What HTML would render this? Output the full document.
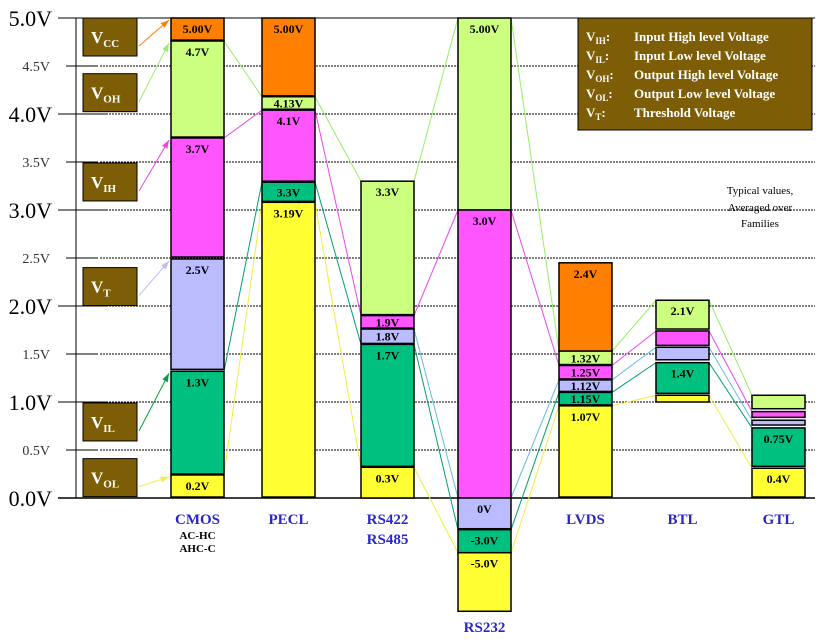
<!DOCTYPE html>
<html><head><meta charset="utf-8"><style>
html,body{margin:0;padding:0;background:#fff;}
svg{display:block;font-family:"Liberation Serif",serif;}
</style></head><body>
<svg id="chart" width="826" height="641" viewBox="0 0 826 641" xmlns="http://www.w3.org/2000/svg">
<g id="grid"></g>
<g id="lines"></g>
<g id="bars"></g>
<g id="boxes"></g>
<g>
<rect x="578" y="18" width="234" height="112" fill="#7d5d05" stroke="#000"/>
<g fill="#fff" font-size="13" font-weight="bold">
<text x="586" y="41">V<tspan font-size="9" dy="3">IH</tspan><tspan dy="-3">:</tspan><tspan x="634">Input High level Voltage</tspan></text>
<text x="586" y="60">V<tspan font-size="9" dy="3">IL</tspan><tspan dy="-3">:</tspan><tspan x="634">Input Low level Voltage</tspan></text>
<text x="586" y="79">V<tspan font-size="9" dy="3">OH</tspan><tspan dy="-3">:</tspan><tspan x="634">Output High level Voltage</tspan></text>
<text x="586" y="98">V<tspan font-size="9" dy="3">OL</tspan><tspan dy="-3">:</tspan><tspan x="634">Output Low level Voltage</tspan></text>
<text x="586" y="117">V<tspan font-size="9" dy="3">T</tspan><tspan dy="-3">:</tspan><tspan x="634">Threshold Voltage</tspan></text>
</g></g>
<g font-size="11" text-anchor="middle">
<text x="760" y="194">Typical values,</text><text x="760" y="211">Averaged over</text><text x="760" y="227">Families</text>
</g>
<g id="cats"></g>
</svg>
<script>
const categories=["CMOS","PECL","RS422","RS232","LVDS","BTL","GTL"];
const catSub=[["AC-HC","AHC-C"],[],["RS485"],[],[],[],[]];
const barX=[171,262,361,458,559,656,752];
const segColors=["#ff8000","#ccff80","#ff55ff","#bbbbff","#00c080","#ffff33"];
// [colorIndex, topV, bottomV, label]
const segCMOS=[[0,5.0,4.77,"5.00V"],[1,4.76,3.76,"4.7V"],[2,3.75,2.51,"3.7V"],[3,2.49,1.34,"2.5V"],[4,1.32,0.25,"1.3V"],[5,0.24,0.01,"0.2V"]];
const segPECL=[[0,5.0,4.19,"5.00V"],[1,4.18,4.05,"4.13V"],[2,4.04,3.30,"4.1V"],[4,3.29,3.09,"3.3V"],[5,3.08,0.01,"3.19V"]];
const segRS422=[[1,3.30,1.91,"3.3V"],[2,1.90,1.77,"1.9V"],[3,1.76,1.61,"1.8V"],[4,1.60,0.33,"1.7V"],[5,0.32,0.0,"0.3V"]];
const segRS232=[[1,5.0,3.0,"5.00V"],[2,3.0,0.0,"3.0V"],[3,0.0,-0.32,"0V"],[4,-0.33,-0.57,"-3.0V"],[5,-0.57,-1.18,"-5.0V"]];
const segLVDS=[[0,2.45,1.53,"2.4V"],[1,1.53,1.39,"1.32V"],[2,1.38,1.24,"1.25V"],[3,1.23,1.11,"1.12V"],[4,1.10,0.97,"1.15V"],[5,0.96,0.01,"1.07V"]];
const segBTL=[[1,2.06,1.76,"2.1V"],[2,1.74,1.59,""],[3,1.57,1.44,""],[4,1.41,1.09,"1.4V"],[5,1.07,1.0,""]];
const segGTL=[[1,1.07,0.93,""],[2,0.90,0.84,""],[3,0.81,0.76,""],[4,0.73,0.33,"0.75V"],[5,0.31,0.01,"0.4V"]];
const allSegs=[segCMOS,segPECL,segRS422,segRS232,segLVDS,segBTL,segGTL];
const tickVals=[5.0,4.5,4.0,3.5,3.0,2.5,2.0,1.5,1.0,0.5,0.0];
const tickLabels=["5.0V","4.5V","4.0V","3.5V","3.0V","2.5V","2.0V","1.5V","1.0V","0.5V","0.0V"];
const boxNames=["CC","OH","IH","T","IL","OL"];
const boxTopV=[5.0,4.42,3.49,2.40,0.99,0.41];
const NS="http://www.w3.org/2000/svg";
const yScale=v=>498-96*v;
const BW=53;
function mk(tag,attrs,parent){const e=document.createElementNS(NS,tag);for(const k in attrs)e.setAttribute(k,attrs[k]);parent.appendChild(e);return e;}
const grid=document.getElementById('grid');
tickVals.forEach((v,i)=>{
  const major=Math.abs(v-Math.round(v))<1e-6;const yy=yScale(v);
  if(v!==5&&v!==0){const d=mk('line',{x1:100,x2:815,y1:yy,y2:yy,stroke:'#000','stroke-dasharray':'2,1','stroke-width':1},grid);
  
  }
  const t=mk('line',{x1:major?58:66,x2:major?106:98,y1:yy,y2:yy,stroke:'#000'},grid);
  
  
  const tx=mk('text',{x:major?52:50,y:yy+(major?8:5),'text-anchor':'end','font-size':major?22:14,fill:major?'#000':'#333'},grid);
  
  
  tx.textContent=tickLabels[i];
});
const axLine=mk('line',{x1:76,x2:76,y1:18,y2:498,stroke:'#000'},grid);


const topLine=mk('line',{x1:58,x2:815,y1:18,y2:18,stroke:'#000'},grid);


const baseLine=mk('line',{x1:58,x2:815,y1:498,y2:498,stroke:'#000','stroke-width':1.5},grid);


const lineCol=["#ff8000","#99ee66","#ee44ee","#66bbdd","#00a070","#eeee44"];
const linesG=document.getElementById('lines');
for(let b=0;b<allSegs.length-1;b++){
  allSegs[b].forEach(s=>{
    const n=allSegs[b+1].find(t=>t[0]===s[0]);
    if(!n||s[0]===0)return;
    const l=mk('line',{x1:barX[b]+BW,y1:yScale(s[1]),x2:barX[b+1],y2:yScale(n[1]),stroke:lineCol[s[0]],'stroke-width':1},linesG);
    
    
  });
}
const barsG=document.getElementById('bars');
allSegs.forEach((segs,b)=>{
  segs.forEach(s=>{
    const r=mk('rect',{x:barX[b],y:yScale(s[1]),width:BW,height:Math.max(1,yScale(s[2])-yScale(s[1])),fill:segColors[s[0]],stroke:'#000','stroke-width':1.5},barsG);
    
    
    if(s[3]){const h=yScale(s[2])-yScale(s[1]);const t=mk('text',{x:barX[b]+BW/2,y:yScale(s[1])+(h<20?h/2+4.5:15),'text-anchor':'middle','font-size':12,'font-weight':'bold'},barsG);
    
    
    t.textContent=s[3];}
  });
});
const boxesG=document.getElementById('boxes');
const arrCol=["#ff8000","#99ee66","#ee44ee","#bbbbff","#00a040","#eeee44"];
boxNames.forEach((n,i)=>{
  const yy=yScale(boxTopV[i]);
  const r=mk('rect',{x:83,y:yy,width:54,height:38,fill:'#7d5d05',stroke:'#000'},boxesG);
  
  
  const t=mk('text',{x:91,y:yy+25,fill:'#fff','font-size':17,'font-weight':'bold'},boxesG);
  
  
  t.innerHTML='V<tspan font-size="11" dy="4">'+n+'</tspan>';
  const tgt=segCMOS[i];const ty=yScale(tgt[1])+2;
  const l=mk('line',{x1:139,y1:yy+28,x2:169,y2:ty,stroke:arrCol[i]},boxesG);
  
  
  const ang=Math.atan2(ty-(yy+28),169-139);
  const p=[[169,ty],[169-9*Math.cos(ang-0.35),ty-9*Math.sin(ang-0.35)],[169-9*Math.cos(ang+0.35),ty-9*Math.sin(ang+0.35)]];
  const a=mk('polygon',{points:p.map(q=>q.join(',')).join(' '),fill:arrCol[i]},boxesG);
  
  
});
const catsG=document.getElementById('cats');
categories.forEach((c,i)=>{
  const cx=barX[i]+BW/2;const cy=i===3?632:524;
  const t=mk('text',{x:cx,y:cy,'text-anchor':'middle','font-size':15,'font-weight':'bold',fill:'#2828c8'},catsG);
  
  
  t.textContent=c;
  catSub[i].forEach((s,j)=>{
    const isBlue=(s==="RS485");
    const u=mk('text',{x:cx,y:cy+(isBlue?20:15+j*13),'text-anchor':'middle','font-size':isBlue?15:11,'font-weight':'bold',fill:isBlue?'#2828c8':'#000'},catsG);
    
    
    u.textContent=s;
  });
});
</script>
</body></html>
